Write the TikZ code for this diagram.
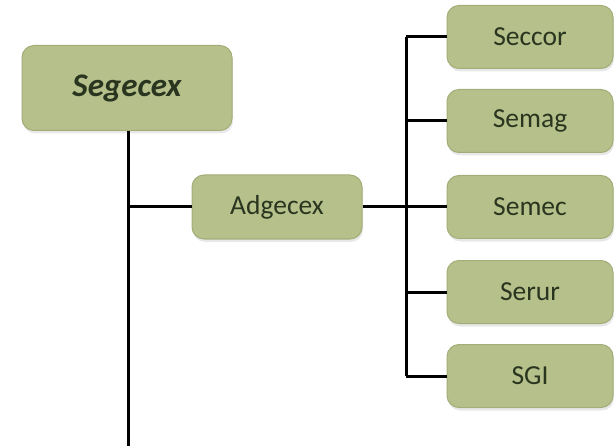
\documentclass[tikz,border=0pt]{standalone}
\usepackage{fontspec}
\setmainfont{Carlito}
\usetikzlibrary{shadows}
\definecolor{boxfill}{HTML}{B5C08A}
\definecolor{boxline}{HTML}{A3AD78}
\definecolor{txt}{HTML}{2A3520}
\tikzset{
  orgbox/.style={draw=boxline, line width=1pt, fill=boxfill, rounded corners=12pt,
    minimum width=#1, inner sep=0pt, text=txt, font=\fontsize{27.5}{30}\selectfont,
    drop shadow={opacity=0.18, shadow xshift=1pt, shadow yshift=-3pt}},
  orgbox/.default=166pt,
  conn/.style={line width=3pt, black}
}
\begin{document}
\begin{tikzpicture}[x=1pt,y=-1pt]
\useasboundingbox (0,0) rectangle (615,446);
\node[orgbox=210pt, minimum height=85pt, font=\fontsize{33}{36}\selectfont\bfseries\itshape] (seg) at (127,88) {Segecex};
\node[orgbox=170pt, minimum height=64pt] (adg) at (277,207) {Adgecex};
\node[orgbox, minimum height=63pt] (sec) at (530,37) {Seccor};
\node[orgbox, minimum height=63pt] (sem) at (530,121) {Semag};
\node[orgbox, minimum height=63pt] (smc) at (530,207) {Semec};
\node[orgbox, minimum height=63pt] (ser) at (530,292) {Serur};
\node[orgbox, minimum height=63pt] (sgi) at (530,376) {SGI};
\coordinate (bot) at (128,446);
\coordinate (j) at (406,207);
\draw[conn] (seg.south -| bot) -- (bot);
\draw[conn] (adg.west -| bot) -- (adg.west);
\draw[conn] (adg.east) -- (j);
\draw[conn] (sec.west -| j) -- (sgi.west -| j);
\foreach \n in {sec,sem,smc,ser,sgi} \draw[conn] (\n.west -| j) -- (\n.west);
\end{tikzpicture}
\end{document}
